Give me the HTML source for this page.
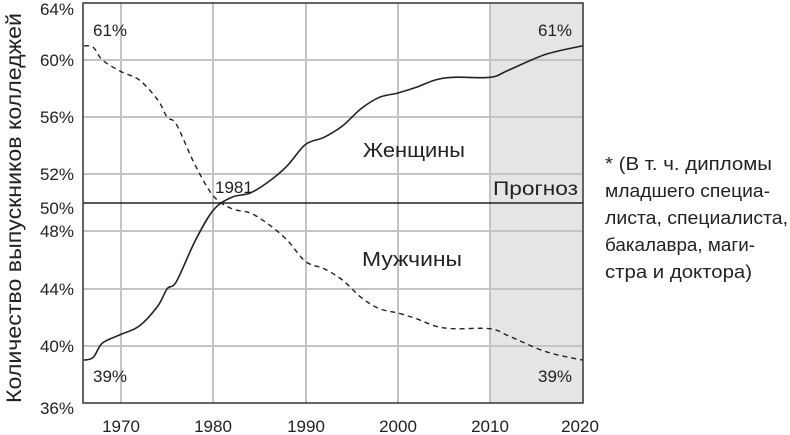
<!DOCTYPE html>
<html><head><meta charset="utf-8"><style>
html,body{margin:0;padding:0;background:#fff;}
svg{display:block;}
text{font-family:"Liberation Sans",sans-serif;fill:#222;}
</style></head><body>
<svg id="s" width="790" height="435" viewBox="0 0 790 435" xmlns="http://www.w3.org/2000/svg">
<rect x="490" y="3" width="93" height="400" fill="#e5e5e5"/>
<g stroke="#c4c4c4" stroke-width="2">
<line x1="83" y1="60" x2="583" y2="60"/>
<line x1="83" y1="117" x2="583" y2="117"/>
<line x1="83" y1="174" x2="583" y2="174"/>
<line x1="83" y1="231" x2="583" y2="231"/>
<line x1="83" y1="289" x2="583" y2="289"/>
<line x1="83" y1="346" x2="583" y2="346"/>
<line x1="121" y1="3" x2="121" y2="403"/>
<line x1="213" y1="3" x2="213" y2="403"/>
<line x1="306" y1="3" x2="306" y2="403"/>
<line x1="398" y1="3" x2="398" y2="403"/>
<line x1="490" y1="3" x2="490" y2="403"/>
</g>
<line x1="83" y1="203" x2="583" y2="203" stroke="#222" stroke-width="1.5"/>
<rect x="83" y="3" width="500" height="400" fill="none" stroke="#333" stroke-width="1.5"/>
<path id="w" fill="none" stroke="#222" stroke-width="1.6"/>
<path id="m" fill="none" stroke="#222" stroke-width="1.4" stroke-dasharray="5,4"/>
<g font-size="17" text-anchor="end">
<text x="74" y="15">64%</text>
<text x="74" y="66">60%</text>
<text x="74" y="123">56%</text>
<text x="74" y="180">52%</text>
<text x="74" y="214">50%</text>
<text x="74" y="237">48%</text>
<text x="74" y="295">44%</text>
<text x="74" y="352">40%</text>
<text x="74" y="414">36%</text>
</g>
<g font-size="17" text-anchor="middle">
<text x="121" y="432">1970</text>
<text x="213" y="432">1980</text>
<text x="306" y="432">1990</text>
<text x="398" y="432">2000</text>
<text x="490" y="432">2010</text>
<text x="580" y="432">2020</text>
</g>
<text transform="translate(21,208) rotate(-90)" font-size="21" text-anchor="middle" textLength="390" lengthAdjust="spacingAndGlyphs">Количество выпускников колледжей</text>
<g font-size="17">
<text x="93" y="36">61%</text>
<text x="93" y="382">39%</text>
<text x="538" y="36">61%</text>
<text x="538" y="382">39%</text>
<text x="215" y="193">1981</text>
</g>
<text x="363" y="157" font-size="20" textLength="102" lengthAdjust="spacingAndGlyphs">Женщины</text>
<text x="362" y="266" font-size="20" textLength="100" lengthAdjust="spacingAndGlyphs">Мужчины</text>
<text x="493" y="195" font-size="19" textLength="85" lengthAdjust="spacingAndGlyphs">Прогноз</text>
<g font-size="18">
<text x="605" y="170" textLength="167" lengthAdjust="spacingAndGlyphs">* (В т. ч. дипломы</text>
<text x="605" y="197" textLength="165" lengthAdjust="spacingAndGlyphs">младшего специа-</text>
<text x="605" y="224" textLength="183" lengthAdjust="spacingAndGlyphs">листа, специалиста,</text>
<text x="605" y="251" textLength="150" lengthAdjust="spacingAndGlyphs">бакалавра, маги-</text>
<text x="605" y="278" textLength="147" lengthAdjust="spacingAndGlyphs">стра и доктора)</text>
</g>
</svg>
<script>
function X(y){return 121+(y-1970)*9.23;}
function Y(p){return 3+(64-p)*14.286;}
var w=[[1966,39],[1967,39.2],[1968,40.2],[1970,40.8],[1972,41.4],[1974,42.8],[1975,44],[1976,44.5],[1978,47.3],[1980,49.5],[1982,50.4],[1984,50.7],[1986,51.5],[1988,52.6],[1990,54.1],[1992,54.6],[1994,55.4],[1996,56.6],[1998,57.4],[2000,57.7],[2002,58.1],[2004,58.6],[2006,58.8],[2010,58.8],[2012,59.3],[2016,60.4],[2020,61]];
var m=w.map(function(a){return [a[0],100-a[1]];});
m[0][1]=61; m[1][1]=60.9; m[2][1]=60;
function path(pts){
 var P=pts.map(function(a){return [X(a[0]),Y(a[1])];});
 var d="M"+P[0][0].toFixed(1)+","+P[0][1].toFixed(1);
 for(var i=0;i<P.length-1;i++){
  var p0=P[i-1]||P[i],p1=P[i],p2=P[i+1],p3=P[i+2]||P[i+1];
  var c1=[p1[0]+(p2[0]-p0[0])/6,p1[1]+(p2[1]-p0[1])/6];
  var c2=[p2[0]-(p3[0]-p1[0])/6,p2[1]-(p3[1]-p1[1])/6];
  d+=" C"+c1[0].toFixed(1)+","+c1[1].toFixed(1)+" "+c2[0].toFixed(1)+","+c2[1].toFixed(1)+" "+p2[0].toFixed(1)+","+p2[1].toFixed(1);
 }
 return d;
}
document.getElementById("w").setAttribute("d",path(w));
document.getElementById("m").setAttribute("d",path(m));
</script>
</body></html>
